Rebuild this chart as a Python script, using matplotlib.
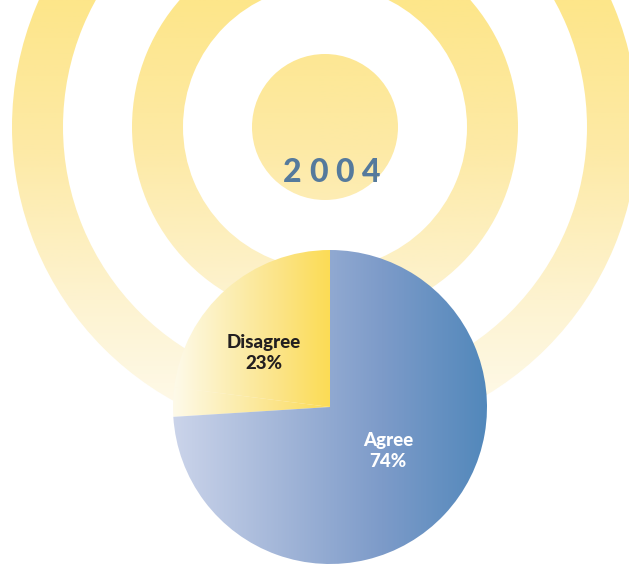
"""2004 opinion pie over a concentric ring backdrop"""
import matplotlib
matplotlib.use('Agg')
import matplotlib.pyplot as plt
import numpy as np
from matplotlib.colors import LinearSegmentedColormap
from matplotlib.patches import Wedge, Circle

# ---------- data ---------- #
year = '2004'
labels = ['Disagree', 'Other', 'Agree']
values = [23, 3, 74]

W, H = 629, 568
plt.rcParams['font.family'] = ['Lato', 'DejaVu Sans']

fig = plt.figure(figsize=(W / 100, H / 100), dpi=100)
ax = fig.add_axes([0, 0, 1, 1])

# ---------- background rings ---------- #
ring_c = (325, H - 127)
ring_cmap = LinearSegmentedColormap.from_list(
    'ring', ['#fffcf2', '#fdf3d0', '#fdeaa6', '#fde68a'])
grad_v = np.linspace(0, 1, 256).reshape(-1, 1)
ring_ext = (0, W, H - 450, H)

rings = [
    Circle(ring_c, 73),
    Wedge(ring_c, 193, 0, 360, width=51),
    Wedge(ring_c, 313, 0, 360, width=51),
]
for p in rings:
    p.set_facecolor('none')
    p.set_edgecolor('none')
    ax.add_patch(p)
    im = ax.imshow(grad_v, cmap=ring_cmap, extent=ring_ext, origin='lower',
                   aspect='auto', interpolation='bilinear', zorder=1)
    im.set_clip_path(p)

# ---------- pie ---------- #
pie_c = (330, H - 407)
R = 157
wedges, _ = ax.pie(values, startangle=90, counterclock=True,
                   center=pie_c, radius=R, frame=True,
                   wedgeprops=dict(linewidth=0, facecolor='none'))

grad_h = np.linspace(0, 1, 256).reshape(1, -1)
yellow = LinearSegmentedColormap.from_list(
    'yel', ['#fefaea', '#fcefb8', '#fbe488', '#fcdc55'])
blue = LinearSegmentedColormap.from_list(
    'blu', ['#cbd4ea', '#a4b7d9', '#7d9bc9', '#5288bb'])
cmaps = {'Disagree': yellow, 'Other': yellow, 'Agree': blue}

for w, lab in zip(wedges, labels):
    w.set_zorder(3)
    if lab == 'Agree':
        ext = (pie_c[0] - R, pie_c[0] + R, pie_c[1] - R, pie_c[1] + R)
    else:
        ext = (pie_c[0] - R, pie_c[0], pie_c[1] - R, pie_c[1] + R)
    im = ax.imshow(grad_h, cmap=cmaps[lab], extent=ext, aspect='auto',
                   interpolation='bilinear', zorder=2)
    im.set_clip_path(w)

# ---------- text ---------- #
for i, ch in enumerate(year):
    ax.text(292 + 26.5 * i, H - 172, ch, ha='center', va='center',
            fontsize=23, fontweight='black', color='#557a9c', zorder=5)

vals = dict(zip(labels, values))
ax.text(264, H - 353, f'Disagree\n{vals["Disagree"]}%', ha='center',
        va='center', fontsize=13.5, fontweight='black', color='#231f20',
        linespacing=1.3, zorder=5)
ax.text(388, H - 451, f'Agree\n{vals["Agree"]}%', ha='center',
        va='center', fontsize=13.5, fontweight='black', color='white',
        linespacing=1.3, zorder=5)

ax.set_xlim(0, W)
ax.set_ylim(0, H)
ax.set_aspect('auto')
ax.axis('off')

fig.savefig('out.png', dpi=100, facecolor='white')
